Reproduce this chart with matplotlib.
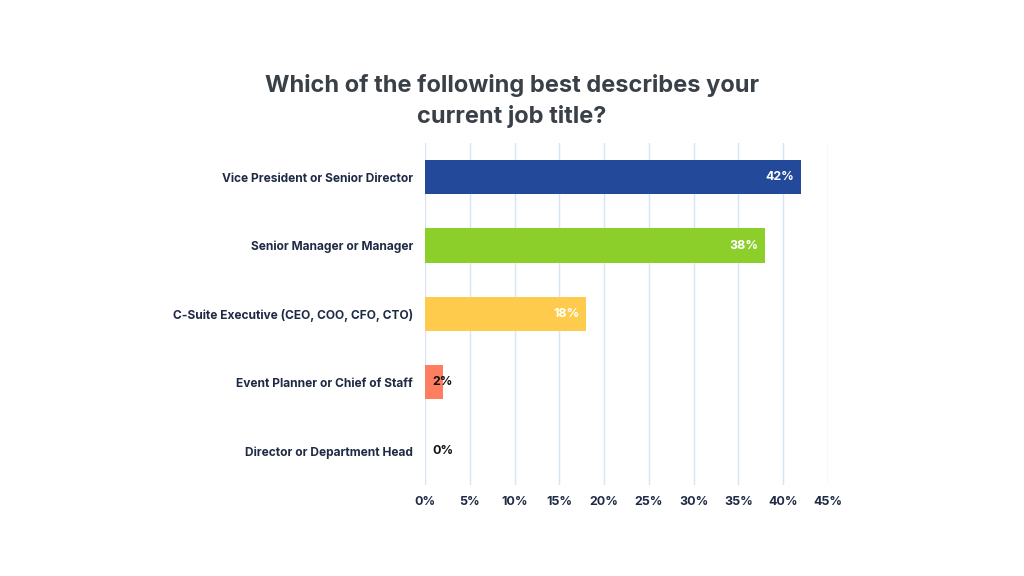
import matplotlib
matplotlib.use("Agg")
import matplotlib.pyplot as plt
from matplotlib.ticker import FuncFormatter

categories = ["Vice President or Senior Director", "Senior Manager or Manager",
              "C-Suite Executive (CEO, COO, CFO, CTO)", "Event Planner or Chief of Staff",
              "Director or Department Head"]
values = [42, 38, 18, 2, 0]
colors = ["#22499a", "#8ccf2b", "#ffcb4c", "#ff7e5f", "#cccccc"]
xticks = [0, 5, 10, 15, 20, 25, 30, 35, 40, 45]

plt.rcParams['font.family'] = ['Inter', 'DejaVu Sans']

fig = plt.figure(figsize=(10.24, 5.76), dpi=100)
ax = fig.add_axes([425/1024, 1-485/576, (828-425)/1024, (485-143)/576])

y = list(range(len(categories)))
ax.barh(y, values, height=0.5, color=colors, zorder=3)
ax.set_ylim(4.5, -0.5)
ax.set_xlim(0, 45)
ax.set_xticks(xticks)
ax.xaxis.set_major_formatter(FuncFormatter(lambda v, p: f"{int(v)}%"))
ax.set_yticks(y)
ax.set_yticklabels(categories)
for lab in ax.get_yticklabels():
    lab.set_fontweight('bold'); lab.set_color('#1f2a44'); lab.set_fontsize(8.6)
for lab in ax.get_xticklabels():
    lab.set_fontweight('bold'); lab.set_color('#1f2a44'); lab.set_fontsize(9)
ax.tick_params(axis='both', length=0)
ax.tick_params(axis='y', pad=8.5)
ax.tick_params(axis='x', pad=8)
ax.grid(axis='x', color='#d6e4f3', linewidth=1, zorder=0)
for s in ax.spines.values():
    s.set_visible(False)

for yi, v in zip(y, values):
    if v >= 10:
        ax.annotate(f"{v}%", (v, yi), xytext=(-5, 0), textcoords='offset points',
                    ha='right', va='center', color='white', fontweight='bold', fontsize=9, zorder=4)
    else:
        ax.annotate(f"{v}%", (0, yi), xytext=(5, 0), textcoords='offset points',
                    ha='left', va='center', color='#111111', fontweight='bold', fontsize=9, zorder=4)

fig.text(512/1024, 1-101/576, "Which of the following best describes your\ncurrent job title?",
         ha='center', va='center', fontsize=17, fontweight='bold', color='#3a4048', linespacing=1.45)

fig.savefig("out.png", dpi=100, facecolor='white')
